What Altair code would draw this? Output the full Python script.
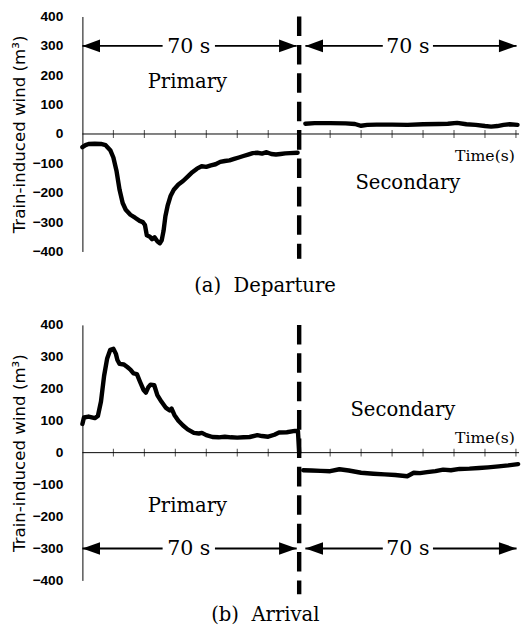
import altair as alt
import pandas as pd

# ---------------- data ----------------
dep_pri_t = [0, 1, 2, 4, 6, 7.5, 9, 10, 11, 12, 13, 14, 15.5, 17, 18.5, 19.5, 20.2, 20.8, 21.8, 22.5,
             23.3, 24.2, 25, 25.6, 26.2, 26.8, 27.5, 28.5, 29.5, 31, 32.5, 34, 35.5, 37, 38.5, 40, 41.5,
             43, 44.5, 46, 47.5, 49, 50.5, 52, 53.5, 55, 56.5, 58, 59.5, 61, 62.5, 64, 65.5, 67, 69.5]
dep_pri_v = [-45, -38, -34, -33, -34, -38, -55, -80, -125, -190, -235, -258, -275, -285, -296, -300, -310,
             -345, -350, -358, -352, -365, -372, -362, -330, -280, -245, -210, -190, -172, -160, -145, -130,
             -118, -110, -112, -107, -103, -95, -92, -90, -85, -80, -75, -70, -65, -64, -67, -62, -68, -70,
             -68, -66, -65, -64]

dep_sec_t = [72, 75, 80, 85, 88, 90, 92, 95, 100, 105, 110, 115, 118, 121, 124, 127, 130, 132, 134, 136,
             138, 140.5]
dep_sec_v = [35, 37, 37, 36, 34, 28, 31, 32, 32, 31, 33, 34, 35, 38, 33, 31, 27, 25, 27, 31, 33, 31]

arr_pri_t = [0, 0.5, 2, 4, 5, 6, 7, 8, 9, 10, 10.8, 11.3, 12, 13.4, 14.5, 15.5, 16.5, 17.6, 18.6, 19.7,
             20.5, 21.3, 22, 23.2, 24.2, 25.5, 27, 28.2, 28.8, 29.7, 31, 32.5, 34, 36, 37.6, 38.6, 40, 42,
             44, 46, 48, 50, 52, 54, 56.5, 58, 60, 62, 63.5, 66, 68.6, 69.6, 70]
arr_pri_v = [90, 110, 113, 108, 115, 160, 240, 295, 322, 325, 310, 290, 278, 276, 268, 260, 248, 246, 222,
             197, 188, 205, 213, 211, 180, 160, 140, 132, 138, 118, 100, 85, 73, 62, 60, 62, 55, 49, 48, 50,
             48, 47, 48, 49, 55, 52, 50, 56, 63, 64, 68, 68, 0]

arr_sec_t = [71.3, 74, 77, 80, 83, 86, 90, 94, 97.6, 101, 104.9, 107, 109, 111.3, 114, 116.5, 119, 121.8,
             125, 128.1, 131, 134.4, 137.5, 140.7]
arr_sec_v = [-55, -56, -57, -58, -52, -56, -63, -66, -68, -70, -74, -63, -64, -61, -58, -53, -55, -51,
             -50, -48, -46, -43, -40, -36]

y_ticks = [-400, -300, -200, -100, 0, 100, 200, 300, 400]
x_ticks = [10, 20, 30, 40, 50, 60, 70, 80, 90, 100, 110, 120, 130, 140]
x_domain = [0, 141]
split_time = 70
arrow_spans = [[0, 69.2], [72, 140.2]]
arrow_gaps = [[25.9, 42.8], [97, 113.2]]
span_label = "70 s"

FONT_SERIF = "DejaVu Serif"
PATH_LEFT = "M0,0 L1,-0.36 L1,0.36 Z"
PATH_RIGHT = "M0,0 L-1,-0.36 L-1,0.36 Z"


def xenc(field="t"):
    return alt.X(f"{field}:Q", scale=alt.Scale(domain=x_domain, nice=False, zero=False), axis=None)


def yenc(field="v"):
    return alt.Y(
        f"{field}:Q",
        scale=alt.Scale(domain=[-400, 400], nice=False, zero=False),
        axis=alt.Axis(
            values=y_ticks, title="Train-induced wind (m³)", grid=False, ticks=False,
            domainColor="black", domainWidth=1, labelFont="Liberation Sans", labelFontWeight="bold",
            labelFontSize=14, labelColor="black", labelPadding=20, titleFont="DejaVu Sans",
            titleFontSize=17, titleFontWeight="normal", titleColor="black", titlePadding=4,
        ),
    )


def panel(pri_t, pri_v, sec_t, sec_v, arrow_v, labels, time_label_v, caption, height, dash_low, cap_offset):
    curves = pd.DataFrame({
        "t": pri_t + sec_t,
        "v": pri_v + sec_v,
        "seg": ["primary"] * len(pri_t) + ["secondary"] * len(sec_t),
    })
    axis_df = pd.DataFrame({"t0": [x_domain[0]], "t1": [x_domain[1]], "v": [0]})
    tick_df = pd.DataFrame({"t": x_ticks, "v": [0] * len(x_ticks)})
    dash_df = pd.DataFrame({"t": [split_time], "v0": [400], "v1": [dash_low]})

    seg_rows = []
    head_rows = []
    for (a, b), (g0, g1) in zip(arrow_spans, arrow_gaps):
        seg_rows.append({"t0": a, "t1": g0, "v": arrow_v})
        seg_rows.append({"t0": g1, "t1": b, "v": arrow_v})
        head_rows.append({"t": a, "v": arrow_v, "dir": "L"})
        head_rows.append({"t": b, "v": arrow_v, "dir": "R"})
        labels = labels + [{"t": (g0 + g1) / 2, "v": arrow_v, "text": span_label, "kind": "span"}]
    seg_df = pd.DataFrame(seg_rows)
    head_df = pd.DataFrame(head_rows)
    lab_df = pd.DataFrame(labels)
    time_df = pd.DataFrame({"t": [130], "v": [time_label_v], "text": ["Time(s)"]})

    base_axis = alt.Chart(axis_df).mark_rule(color="black", strokeWidth=1).encode(
        x=xenc("t0"), x2="t1:Q", y=yenc("v"))
    ticks = alt.Chart(tick_df).mark_tick(orient="vertical", size=8, thickness=1, color="black").encode(
        x=xenc(), y=yenc())
    lines = alt.Chart(curves).mark_line(color="black", strokeWidth=4.5, strokeJoin="round",
                                        strokeCap="round").encode(
        x=xenc(), y=yenc(), detail="seg:N")
    dash = alt.Chart(dash_df).mark_rule(color="black", strokeWidth=4.5, strokeDash=[20, 9]).encode(
        x=xenc(), y=yenc("v0"), y2="v1:Q")
    segs = alt.Chart(seg_df).mark_rule(color="black", strokeWidth=2).encode(
        x=xenc("t0"), x2="t1:Q", y=yenc("v"))
    heads = alt.Chart(head_df).mark_point(filled=True, size=1296, color="black", opacity=1,
                                          strokeWidth=0).encode(
        x=xenc(), y=yenc(),
        shape=alt.Shape("dir:N", scale=alt.Scale(domain=["L", "R"], range=[PATH_LEFT, PATH_RIGHT]),
                        legend=None))
    span_txt = alt.Chart(lab_df).transform_filter(alt.datum.kind == "span").mark_text(
        font=FONT_SERIF, fontSize=21, color="black", baseline="middle", align="center", dy=1).encode(
        x=xenc(), y=yenc(), text="text:N")
    word_txt = alt.Chart(lab_df).transform_filter(alt.datum.kind == "word").mark_text(
        font=FONT_SERIF, fontSize=20, color="black", baseline="alphabetic", align="center").encode(
        x=xenc(), y=yenc(), text="text:N")
    time_txt = alt.Chart(time_df).mark_text(
        font=FONT_SERIF, fontSize=16, color="black", baseline="alphabetic", align="center").encode(
        x=xenc(), y=yenc(), text="text:N")

    return alt.layer(base_axis, ticks, dash, lines, segs, heads, span_txt, word_txt, time_txt).properties(
        width=446, height=height,
        title=alt.TitleParams(caption, orient="bottom", anchor="middle", frame="bounds", font=FONT_SERIF,
                              fontSize=20, fontWeight="normal", color="black", offset=cap_offset),
    )


top = panel(
    dep_pri_t, dep_pri_v, dep_sec_t, dep_sec_v, 300,
    [{"t": 33.9, "v": 158, "text": "Primary", "kind": "word"},
     {"t": 105.1, "v": -188, "text": "Secondary", "kind": "word"}],
    -92, "(a)\u00a0 Departure", 240, -425, 16,
)
bottom = panel(
    arr_pri_t, arr_pri_v, arr_sec_t, arr_sec_v, -300,
    [{"t": 33.9, "v": -185, "text": "Primary", "kind": "word"},
     {"t": 103.5, "v": 115, "text": "Secondary", "kind": "word"}],
    31, "(b)\u00a0 Arrival", 261, -443, 9,
)

chart = alt.vconcat(top, bottom, spacing=22).properties(
    padding={"left": 2, "top": -5, "right": 0, "bottom": 0}
).configure_view(strokeWidth=0)

chart.save("out.html", embed_options={"renderer": "svg", "actions": False})
